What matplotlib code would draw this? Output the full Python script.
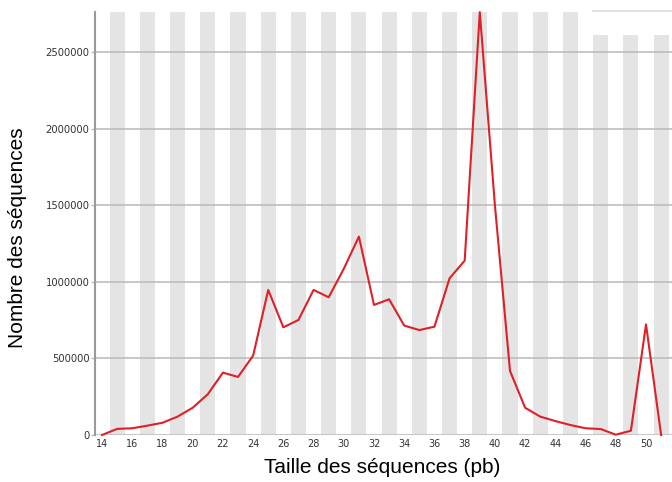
import matplotlib.pyplot as plt
from matplotlib.ticker import FixedLocator

# Read-length distribution (bp) and number of sequences per length
sizes = list(range(14, 52))
counts = [
    0, 40000, 44000, 61000, 80000, 120000, 178000, 266000, 407000, 379000,
    518000, 947000, 703000, 751000, 947000, 899000, 1085000, 1295000, 849000, 886000,
    714000, 685000, 707000, 1023000, 1138000, 2760000, 1500000, 418000, 178000, 120000,
    91000, 65000, 44000, 39000, 2000, 28000, 722000, 0,
]
x_ticks = list(range(14, 52, 2))
y_ticks = [0, 500000, 1000000, 1500000, 2000000, 2500000]

fig = plt.figure(figsize=(6.72, 4.82), dpi=100)
ax = fig.add_axes([0.1414, 0.0975, 0.8586, 0.8776])

y_top = 2761000
ax.set_xlim(13.537, 51.72)
ax.set_ylim(0, y_top)

# alternating background bands on odd sizes
for k in range(15, 52, 2):
    top = y_top if k < 47 else 2610000
    ax.fill_between([k - 0.5, k + 0.5], 0, top, color="#e4e4e4", lw=0, zorder=0)
ax.plot([46.5, 51.72], [y_top * 1.003] * 2, color="#dddddd", lw=1.2, clip_on=False, zorder=1)

for yv in y_ticks:
    ax.axhline(yv, color="#bdbdbd", lw=1.2, zorder=1)

ax.plot(sizes, counts, color="#e01f26", lw=1.5, zorder=3, clip_on=False)

for side in ["top", "right", "bottom"]:
    ax.spines[side].set_visible(False)
ax.spines["left"].set_color("#9a9a9a")
ax.spines["left"].set_linewidth(1.5)

ax.xaxis.set_major_locator(FixedLocator(x_ticks))
ax.yaxis.set_major_locator(FixedLocator(y_ticks))
ax.set_yticklabels([str(v) for v in y_ticks])
ax.tick_params(axis="x", length=0, pad=3, labelsize=7, labelcolor="#333333")
ax.tick_params(axis="y", length=3, width=1, color="#bdbdbd", pad=1, labelsize=7.2, labelcolor="#333333")

ax.set_xlabel("Taille des séquences (pb)", fontsize=15, family="Liberation Sans",
              ha="center", va="center")
ax.set_ylabel("Nombre des séquences", fontsize=15, family="Liberation Sans",
              ha="center", va="center")
ax.xaxis.set_label_coords(0.497, -0.0757)
ax.yaxis.set_label_coords(-0.135, 0.466)

fig.savefig("out.png", dpi=100)
